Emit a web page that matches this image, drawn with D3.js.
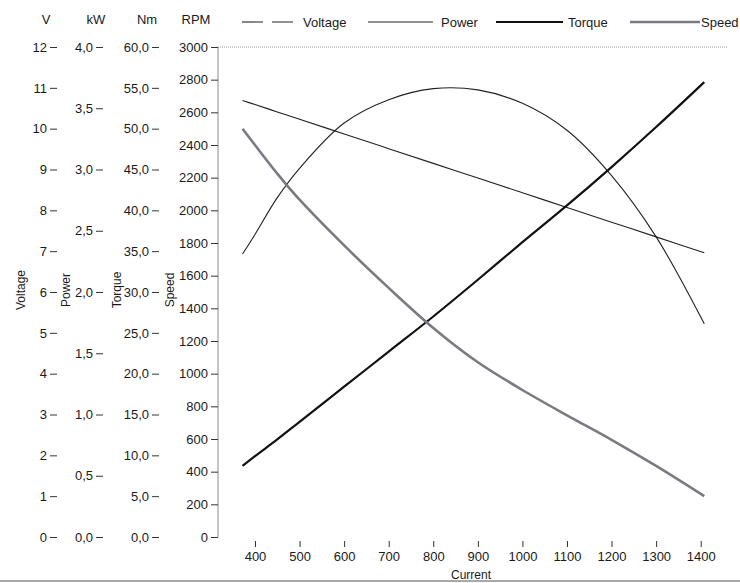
<!DOCTYPE html>
<html>
<head>
<meta charset="utf-8">
<script src="https://cdn.jsdelivr.net/npm/d3@7/dist/d3.min.js"></script>
<style>
  html, body { margin: 0; padding: 0; background: #ffffff; }
  svg { display: block; }
  text { font-family: "Liberation Sans", Arial, sans-serif; fill: #1a1a1a; }
</style>
</head>
<body>
<svg id="chart" width="740" height="583"></svg>
<script>
// ---- data ----
const current = [372, 400, 450, 500, 600, 700, 800, 900, 1000, 1100, 1200, 1300, 1408];
const voltage = [10.69, 10.59, 10.41, 10.23, 9.87, 9.51, 9.15, 8.79, 8.43, 8.07, 7.71, 7.35, 6.96];   // V
const power   = [2.31, 2.47, 2.77, 3.01, 3.38, 3.57, 3.66, 3.65, 3.54, 3.32, 2.95, 2.45, 1.74];       // kW
const torque  = [8.7, 9.9, 11.95, 14.1, 18.4, 22.7, 27.0, 31.5, 36.1, 40.6, 45.3, 50.2, 55.7];         // Nm
const speed   = [2500, 2400, 2225, 2065, 1785, 1525, 1280, 1070, 900, 745, 595, 435, 250];            // RPM

const currentTicks = [400, 500, 600, 700, 800, 900, 1000, 1100, 1200, 1300, 1400];
const voltTicks  = [0,1,2,3,4,5,6,7,8,9,10,11,12];
const kwTicks    = [0,0.5,1,1.5,2,2.5,3,3.5,4];
const nmTicks    = [0,5,10,15,20,25,30,35,40,45,50,55,60];
const rpmTicks   = [0,200,400,600,800,1000,1200,1400,1600,1800,2000,2200,2400,2600,2800,3000];

const seriesNames = ["Voltage", "Power", "Torque", "Speed"];

// ---- layout ----
const svg = d3.select("#chart");
const plotTop = 47, plotBottom = 537, plotLeft = 218, plotRight = 727;

const x = d3.scaleLinear().domain([317, 1459]).range([plotLeft, plotRight]);
const yV  = d3.scaleLinear().domain([0, 12]).range([plotBottom, plotTop]);
const yKW = d3.scaleLinear().domain([0, 4]).range([plotBottom, plotTop]);
const yNm = d3.scaleLinear().domain([0, 60]).range([plotBottom, plotTop]);
const yR  = d3.scaleLinear().domain([0, 3000]).range([plotBottom, plotTop]);

const comma1 = v => d3.format(".1f")(v).replace(".", ",");

// top dotted border
svg.append("line")
  .attr("x1", plotLeft).attr("x2", plotRight).attr("y1", plotTop).attr("y2", plotTop)
  .attr("stroke", "#9a9a9a").attr("stroke-width", 1).attr("stroke-dasharray", "1,1");

function leftAxis(scale, ticks, fmt, xpos, padding, domain) {
  const g = svg.append("g").attr("transform", `translate(${xpos},0)`)
    .call(d3.axisLeft(scale).tickValues(ticks).tickFormat(fmt).tickSize(7).tickPadding(padding));
  g.selectAll("text").style("font-size", "13px").attr("fill", "#1a1a1a")
    .style("font-family", '"Liberation Sans", Arial, sans-serif');
  g.selectAll(".tick line").attr("stroke", "#333");
  if (!domain) g.select(".domain").remove();
  else g.select(".domain").attr("stroke", "#8a8a8a").attr("d", `M0,${plotTop}V${plotBottom}`);
  return g;
}
leftAxis(yV,  voltTicks, d3.format("d"), 57, 3, false);
leftAxis(yKW, kwTicks,  comma1, 103, 3, false);
leftAxis(yNm, nmTicks,  comma1, 159, 3, false);
leftAxis(yR,  rpmTicks, d3.format("d"), 218, 3, true);

// unit labels
const units = [["V", 46], ["kW", 96], ["Nm", 147], ["RPM", 196]];
svg.selectAll(".unit").data(units).enter().append("text")
  .attr("class", "unit").attr("x", d => d[1]).attr("y", 24)
  .attr("text-anchor", "middle").style("font-size", "13px").text(d => d[0]);

// rotated axis titles
const titles = [["Voltage", 25], ["Power", 70], ["Torque", 121], ["Speed", 174]];
svg.selectAll(".atitle").data(titles).enter().append("text")
  .attr("class", "atitle")
  .attr("transform", d => `translate(${d[1]},${(plotTop + plotBottom) / 2 - 2}) rotate(-90)`)
  .attr("text-anchor", "middle").style("font-size", "12px").text(d => d[0]);

// x axis
const gx = svg.append("g").attr("transform", `translate(0,541)`)
  .call(d3.axisBottom(x).tickValues(currentTicks).tickFormat(d3.format("d")).tickSize(6).tickPadding(5));
gx.select(".domain").remove();
gx.selectAll(".tick line").attr("stroke", "#333");
gx.selectAll("text").style("font-size", "13px").attr("fill", "#1a1a1a")
  .style("font-family", '"Liberation Sans", Arial, sans-serif');
svg.append("text").attr("x", 471).attr("y", 579).attr("text-anchor", "middle")
  .style("font-size", "12px").text("Current");

// page edge line at the bottom
svg.append("line").attr("x1", 0).attr("x2", 740).attr("y1", 581).attr("y2", 581)
  .attr("stroke", "#8c8c8c").attr("stroke-width", 1.5);

// ---- series ----
const styles = {
  Voltage: { color: "#222", width: 1.1, legendDash: "21,9", y: yV,  values: voltage },
  Power:   { color: "#222", width: 1.1, legendDash: null,   y: yKW, values: power },
  Torque:  { color: "#111", width: 2.2, legendDash: null,   y: yNm, values: torque },
  Speed:   { color: "#7a7a82", width: 2.6, legendDash: null, y: yR, values: speed }
};

seriesNames.forEach(name => {
  const s = styles[name];
  const pts = current.map((c, i) => [c, s.values[i]]);
  const line = d3.line().x(d => x(d[0])).y(d => s.y(d[1])).curve(d3.curveCatmullRom.alpha(0.5));
  svg.append("path").datum(pts)
    .attr("fill", "none").attr("stroke", s.color).attr("stroke-width", s.width)
    .attr("stroke-linejoin", "round").attr("d", line);
});

// ---- legend ----
const legendItems = [
  { name: "Voltage", x1: 242, x2: 293, tx: 303 },
  { name: "Power",   x1: 368, x2: 433, tx: 441 },
  { name: "Torque",  x1: 496, x2: 563, tx: 568 },
  { name: "Speed",   x1: 630, x2: 700, tx: 701 }
];
legendItems.forEach(li => {
  const s = styles[li.name];
  svg.append("line").attr("x1", li.x1).attr("x2", li.x2).attr("y1", 22).attr("y2", 22)
    .attr("stroke", s.color).attr("stroke-width", s.width)
    .attr("stroke-dasharray", s.legendDash);
  svg.append("text").attr("x", li.tx).attr("y", 27).style("font-size", "13px").text(li.name);
});
</script>
</body>
</html>
